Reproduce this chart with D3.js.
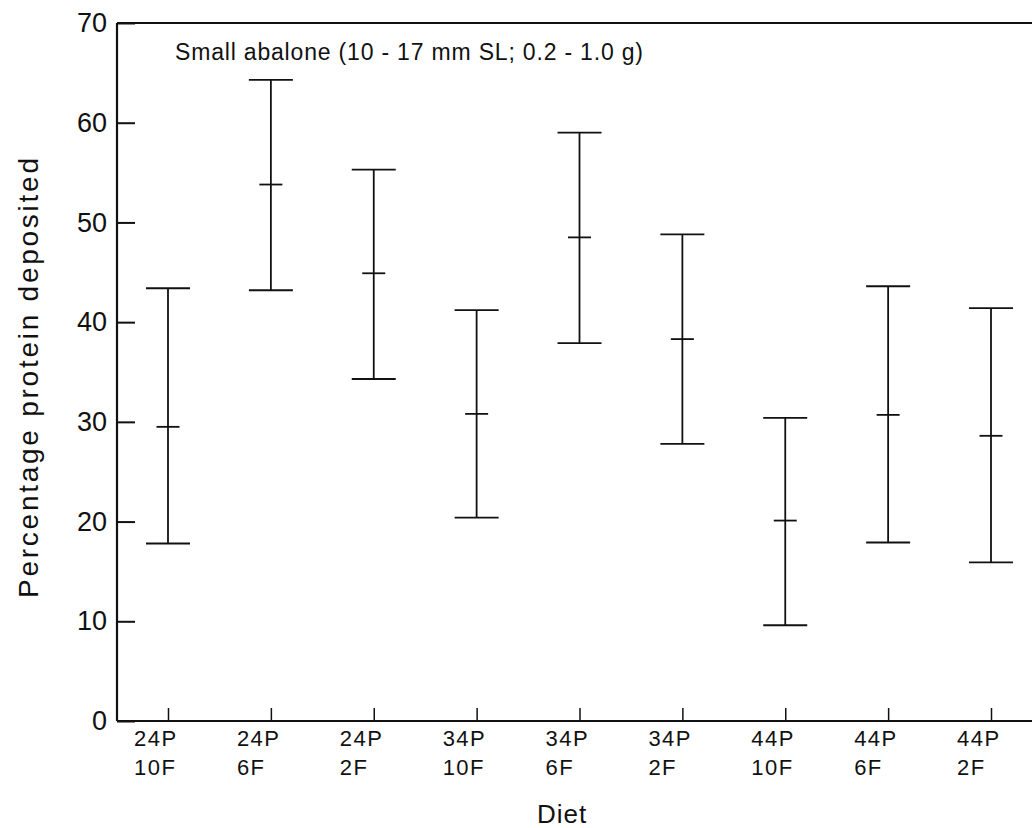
<!DOCTYPE html>
<html>
<head>
<meta charset="utf-8">
<script src="https://cdn.jsdelivr.net/npm/d3@7"></script>
<style>
  body { margin: 0; background: #fff; }
  text { font-family: "Liberation Sans", Arial, Helvetica, sans-serif; fill: #111; }
</style>
</head>
<body>
<div id="chart"></div>
<script>
// diet labels (two lines each)
var protein = ["24P", "24P", "24P", "34P", "34P", "34P", "44P", "44P", "44P"]
var fat = ["10F", "6F", "2F", "10F", "6F", "2F", "10F", "6F", "2F"]
// percentage protein deposited
var upper = [43.4, 64.3, 55.3, 41.2, 59.0, 48.8, 30.4, 43.6, 41.4]
var mean = [29.5, 53.8, 44.9, 30.8, 48.5, 38.3, 20.1, 30.7, 28.6]
var lower = [17.8, 43.2, 34.3, 20.4, 37.9, 27.8, 9.6, 17.9, 15.9]
var yTicks = [0, 10, 20, 30, 40, 50, 60, 70]

var W = 1032, H = 828
var margin = {left: 117, top: 23, bottom: 721, right: 1032}

var svg = d3.select("#chart").append("svg")
  .attr("width", W)
  .attr("height", H)

var data = protein.map(function (p, i) {
  return { key: i, p: p, f: fat[i], hi: upper[i], m: mean[i], lo: lower[i] }
})

var x = d3.scalePoint()
  .domain(data.map(function (d) { return d.key }))
  .range([168, 991])

var y = d3.scaleLinear()
  .domain([0, 70])
  .range([margin.bottom, margin.top])

// y axis, ticks pointing inward
var yAxis = svg.append("g")
  .attr("transform", "translate(" + margin.left + ",0)")
  .call(d3.axisLeft(y).tickValues(yTicks).tickSize(-18).tickSizeOuter(0).tickPadding(10))
yAxis.select(".domain").remove()
yAxis.selectAll("line").attr("stroke", "#111").attr("stroke-width", 2)
yAxis.selectAll("text")
  .attr("fill", "#111")
  .style("font-size", "27px")

// x axis ticks, small and upward
var xAxis = svg.append("g")
  .attr("transform", "translate(0," + margin.bottom + ")")
  .call(d3.axisBottom(x).tickSize(-13).tickFormat(""))
xAxis.select(".domain").remove()
xAxis.selectAll("line").attr("stroke", "#111").attr("stroke-width", 1.5)

// frame lines: left, bottom, top
svg.append("line").attr("x1", margin.left).attr("x2", margin.left).attr("y1", margin.top).attr("y2", margin.bottom)
  .attr("stroke", "#111").attr("stroke-width", 2.2)
svg.append("line").attr("x1", margin.left).attr("x2", margin.right).attr("y1", margin.bottom).attr("y2", margin.bottom)
  .attr("stroke", "#111").attr("stroke-width", 2.2)
svg.append("line").attr("x1", margin.left).attr("x2", margin.right).attr("y1", margin.top).attr("y2", margin.top)
  .attr("stroke", "#111").attr("stroke-width", 2.2)

// diet labels
var lab = svg.append("g").selectAll("text")
  .data(data)
  .join("text")
  .attr("x", function (d) { return x(d.key) - 34 })
  .attr("y", 746)
  .style("font-size", "22px")
  .style("letter-spacing", "1.5px")
lab.append("tspan").text(function (d) { return d.p })
lab.append("tspan")
  .attr("x", function (d) { return x(d.key) - 34 })
  .attr("dy", 29)
  .text(function (d) { return d.f })

// error bars
var capW = 44, meanW = 23
var bars = svg.append("g").selectAll("g")
  .data(data)
  .join("g")
  .attr("stroke", "#111")
  .attr("stroke-width", 1.8)

bars.append("line")
  .attr("x1", function (d) { return x(d.key) })
  .attr("x2", function (d) { return x(d.key) })
  .attr("y1", function (d) { return y(d.hi) })
  .attr("y2", function (d) { return y(d.lo) })
bars.append("line")
  .attr("x1", function (d) { return x(d.key) - capW / 2 })
  .attr("x2", function (d) { return x(d.key) + capW / 2 })
  .attr("y1", function (d) { return y(d.hi) })
  .attr("y2", function (d) { return y(d.hi) })
bars.append("line")
  .attr("x1", function (d) { return x(d.key) - capW / 2 })
  .attr("x2", function (d) { return x(d.key) + capW / 2 })
  .attr("y1", function (d) { return y(d.lo) })
  .attr("y2", function (d) { return y(d.lo) })
bars.append("line")
  .attr("x1", function (d) { return x(d.key) - meanW / 2 })
  .attr("x2", function (d) { return x(d.key) + meanW / 2 })
  .attr("y1", function (d) { return y(d.m) })
  .attr("y2", function (d) { return y(d.m) })

// panel note
svg.append("text")
  .attr("x", 175)
  .attr("y", 60)
  .style("font-size", "23px")
  .attr("textLength", 468)
  .attr("lengthAdjust", "spacing")
  .text("Small abalone (10 - 17 mm SL; 0.2 - 1.0 g)")

// axis titles
svg.append("text")
  .attr("transform", "translate(38,378) rotate(-90)")
  .attr("text-anchor", "middle")
  .style("font-size", "28px")
  .attr("textLength", 440)
  .attr("lengthAdjust", "spacing")
  .text("Percentage protein deposited")

svg.append("text")
  .attr("x", 562)
  .attr("y", 823)
  .attr("text-anchor", "middle")
  .style("font-size", "26px")
  .style("letter-spacing", "1px")
  .text("Diet")
</script>
</body>
</html>
